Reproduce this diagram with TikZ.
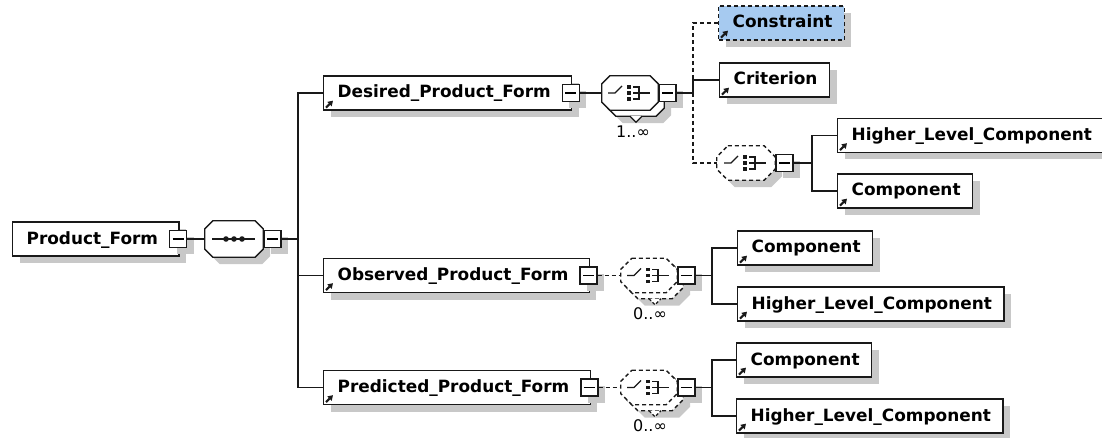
\documentclass[tikz,border=0pt]{standalone}
\usepackage{fontspec}
\setmainfont{DejaVu Sans}
\usetikzlibrary{arrows.meta, shadows, positioning}
\definecolor{LineColor}{RGB}{25,25,25}
\definecolor{ShadowColor}{RGB}{200,200,200}
\definecolor{OptionalFill}{RGB}{166,202,240}
\newcommand{\elemfont}{\fontsize{16.9}{19}\selectfont\bfseries}
\newcommand{\collapsemark}{\rule[-0.6pt]{11pt}{1.2pt}}
\tikzstyle{conn} = [line width=1.3pt, LineColor]
\tikzstyle{optconn} = [conn, dash pattern=on 4pt off 3pt]
\tikzstyle{refarrow} = [line width=2pt, LineColor, -{Triangle[length=5pt,width=6pt]}]
\tikzset{
  boxshadow/.style={drop shadow={shadow xshift=7pt, shadow yshift=-7pt, fill=ShadowColor, opacity=1}},
  elem/.style={rectangle, draw=LineColor, line width=1.3pt, fill=white, boxshadow, anchor=west,
    minimum height=34pt, inner xsep=0pt, inner ysep=0pt, text height=13pt, text depth=3pt,
    font=\elemfont, execute at begin node=\hspace*{14pt}, execute at end node=\hspace*{#1}},
  elem/.default=12pt,
  optelem/.style={elem, dash pattern=on 4pt off 3pt, fill=OptionalFill},
  expander/.style={rectangle, draw=LineColor, line width=1.3pt, fill=white, boxshadow, minimum size=17pt, inner sep=0pt},
  seqbox/.style={rectangle, minimum width=58pt, minimum height=36pt, inner sep=0pt},
  choicebox/.style={seqbox, minimum width=56pt, minimum height=34pt},
  mult/.style={font=\fontsize{16}{18}\selectfont, inner sep=0pt}
}
% octagon outline of a compositor node: #1 node, #2 chamfer
\newcommand{\octpath}[2]{([xshift=#2]#1.north west) -- ([xshift=-#2]#1.north east)
  -- ([shift={(0,#2)}]#1.north east) -- ([shift={(0,-#2)}]#1.south east)
  -- ([xshift=-#2]#1.south east) -- ([xshift=#2]#1.south west)
  -- ([shift={(0,-#2)}]#1.south west) -- ([shift={(0,#2)}]#1.north west) -- cycle}
\newcommand{\octshadow}[2]{\fill[ShadowColor, transform canvas={shift={(7pt,-7pt)}}] \octpath{#1}{#2};}
\newcommand{\octbox}[3][]{\draw[conn, #1, fill=white] \octpath{#2}{#3};}
% compositor icons, drawn on top of a named node
\newcommand{\seqicon}[1]{%
  \draw[conn] ([xshift=-22]#1.center) -- ([xshift=21]#1.center);
  \foreach \dx in {-8,0,8} \fill[LineColor] ([xshift=\dx]#1.center) circle (2.8pt);
}
\newcommand{\choiceicon}[1]{%
  \draw[conn] ([xshift=-22]#1.center) -- ++(7,0) -- ++(7,-7);
  \foreach \dy in {-6,0,6} \fill[LineColor] ([shift={(-3,\dy-1.8)}]#1.center) rectangle ++(3.6,3.6);
  \draw[conn] ([shift={(3,-6)}]#1.center) -- ++(6,0) -- ++(0,12) -- ++(-6,0)
    ([xshift=3]#1.center) -- ++(17,0);
}
\newcommand{\multnotch}[2][]{%
  \draw[conn, #1, fill=white] ([xshift=-6]#2.south) -- ([shift={(0,6)}]#2.south) -- ([xshift=6]#2.south);
}

\begin{document}
\begin{tikzpicture}[x=1pt, y=-1pt]
\useasboundingbox (0,0) rectangle (1102,438);
\clip (0,0) rectangle (1102,438);

% Root element and its sequence
\node[elem=21pt] (pf) at (12,239) {Product\_Form};
\node[expander] (pfx) at ([xshift=-1.5]pf.east) {\collapsemark};
\node[seqbox] (seq) at (234,239) {};
\octshadow{seq}{8}
\octbox{seq}{8}
\seqicon{seq}
\node[expander, anchor=west] (seqx) at (seq.east) {\collapsemark};
\draw[conn] (pfx) -- (seq);
\coordinate (mainbus) at (298,239);

% Children of the sequence
\node[elem=21pt] (des) at (323,93) {Desired\_Product\_Form};
\node[elem=21pt] (obs) at (323,275.5) {Observed\_Product\_Form};
\node[elem=21pt] (pre) at (323,387.5) {Predicted\_Product\_Form};
\draw[conn] (seqx) -- (mainbus);
\draw[conn] (des.west) -| (mainbus) |- (pre.west);
\draw[conn] (obs.west) -- (obs.west -| mainbus);
\node[expander] (desx) at ([xshift=-1.5]des.east) {\collapsemark};
\node[expander] (obsx) at ([xshift=-1.5]obs.east) {\collapsemark};
\node[expander] (prex) at ([xshift=-1.5]pre.east) {\collapsemark};

% Desired: choice 1..oo
\node[choicebox] (dchs) at (636,99) {};
\node[choicebox] (dch) at (630,93) {};
\octshadow{dchs}{8}
\octbox{dchs}{8}
\multnotch{dchs}
\octbox{dch}{8}
\choiceicon{dch}
\node[expander, anchor=west] (dchx) at (dch.east) {\collapsemark};
\node[mult] (dmul) at (633,132) {1..∞};
\draw[conn] (desx) -- (dch);

\coordinate (dbus) at (693,93);
\node[optelem] (con) at (718,23) {Constraint};
\node[elem] (cri) at (719,80) {Criterion};
\node[choicebox, minimum width=58pt] (nch) at (746,163) {};
\octshadow{nch}{11}
\octbox[optconn]{nch}{11}
\choiceicon{nch}
\node[expander, anchor=west] (nchx) at (nch.east) {\collapsemark};
\draw[optconn] (dbus) |- (con.west);
\draw[optconn] (dbus) |- (nch.west);
\draw[conn] (dchx) -- (dbus) |- (cri.west);

\coordinate (nbus) at (812,163);
\node[elem] (hlc) at (837,135.5) {Higher\_Level\_Component};
\node[elem] (cmp) at (837,191) {Component};
\draw[conn] (nchx) -- (nbus) |- (hlc.west);
\draw[conn] (nbus) |- (cmp.west);

% Observed: optional choice 0..oo
\node[choicebox] (ochs) at (655,281.5) {};
\node[choicebox] (och) at (649,275.5) {};
\octshadow{ochs}{11}
\octbox[optconn]{ochs}{11}
\multnotch[dash pattern=on 3pt off 2pt]{ochs}
\octbox[optconn]{och}{11}
\choiceicon{och}
\node[expander, anchor=west] (ochx) at (och.east) {\collapsemark};
\node[mult] (omul) at (650,314) {0..∞};
\draw[optconn] (obsx) -- (och);

\coordinate (obus) at (712,275.5);
\node[elem] (ocmp) at (737,248) {Component};
\node[elem] (ohlc) at (737,304) {Higher\_Level\_Component};
\draw[conn] (ochx) -- (obus) |- (ocmp.west);
\draw[conn] (obus) |- (ohlc.west);

% Predicted: optional choice 0..oo
\node[choicebox] (pchs) at (655,393.5) {};
\node[choicebox] (pch) at (649,387.5) {};
\octshadow{pchs}{11}
\octbox[optconn]{pchs}{11}
\multnotch[dash pattern=on 3pt off 2pt]{pchs}
\octbox[optconn]{pch}{11}
\choiceicon{pch}
\node[expander, anchor=west] (pchx) at (pch.east) {\collapsemark};
\node[mult] (pmul) at (650,426) {0..∞};
\draw[optconn] (prex) -- (pch);

\coordinate (pbus) at (712,387.5);
\node[elem] (pcmp) at (736,360) {Component};
\node[elem] (phlc) at (736,416) {Higher\_Level\_Component};
\draw[conn] (pchx) -- (pbus) |- (pcmp.west);
\draw[conn] (pbus) |- (phlc.west);

% reference arrows in the lower left corners
\foreach \n in {des,obs,pre,con,cri,hlc,cmp,ocmp,ohlc,pcmp,phlc}
  \draw[refarrow] ([shift={(3pt,3pt)}]\n.south west) -- ++(7pt,7pt);
\end{tikzpicture}
\end{document}
